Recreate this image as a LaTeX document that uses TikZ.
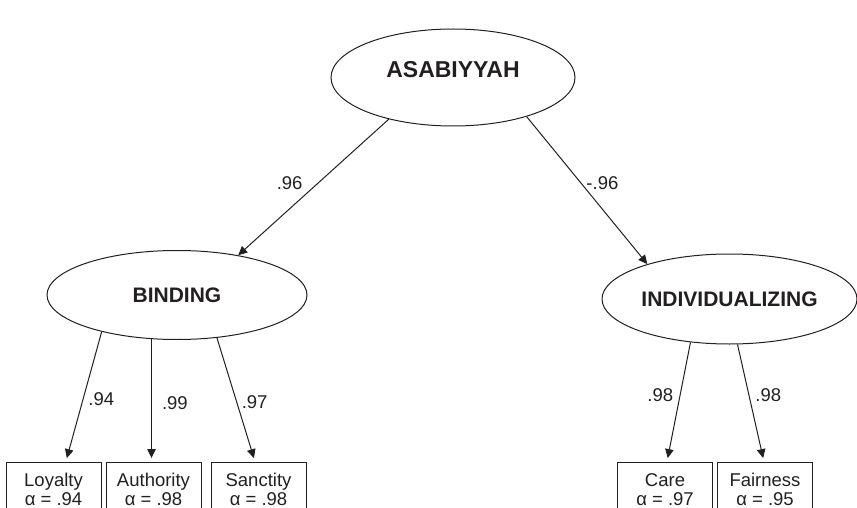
\documentclass[tikz,border=0pt]{standalone}
\usepackage{fontspec}
\setmainfont{Liberation Sans}
\usetikzlibrary{positioning,arrows.meta,shapes.geometric}
\definecolor{InkBlack}{RGB}{35,31,32}
\tikzset{
  loading/.style={-{Triangle[length=9pt,width=8.5pt]},line width=1pt,draw=InkBlack},
  latent/.style={ellipse,draw=InkBlack,line width=1pt,text=InkBlack,
    font=\fontsize{21}{24}\selectfont\bfseries,inner sep=0pt},
  indicator/.style={draw=InkBlack,line width=1pt,text=InkBlack,minimum width=95pt,
    minimum height=54pt,align=center,font=\fontsize{18.5}{19.5}\selectfont,inner sep=2pt},
  coef/.style={font=\fontsize{18.5}{20}\selectfont,text=InkBlack,inner sep=1pt}
}

\begin{document}
\begin{tikzpicture}[x=1pt,y=1pt,node distance=4pt]
  \clip (0,0) rectangle (857,-508);
  % latent factors
  \node[latent,minimum width=244pt,minimum height=97pt,font=\fontsize{23}{24}\selectfont\bfseries,
    text height=16.5pt,text depth=17pt] (asab) at (453,-77.5) {ASABIYYAH};
  \node[latent,minimum width=260pt,minimum height=89pt] (binding) at (177,-295) {BINDING};
  \node[latent,minimum width=255pt,minimum height=90pt] (indiv) at (729.5,-299) {INDIVIDUALIZING};
  % indicators
  \node[indicator,anchor=north] (loyalty) at (53.5,-462) {Loyalty\\α = .94};
  \node[indicator,right=of loyalty] (authority) {Authority\\α = .98};
  \node[indicator,right=9pt of authority] (sanctity) {Sanctity\\α = .98};
  \node[indicator,anchor=north] (care) at (665,-462) {Care\\α = .97};
  \node[indicator,right=of care] (fairness) {Fairness\\α = .95};
  % loadings
  \draw[loading] (asab.213) -- node[coef,pos=0.47,left=14pt] {.96} (binding.33);
  \draw[loading] (asab.332) -- node[coef,pos=0.45,right=4pt] {-.96} (indiv.157);
  \draw[loading,shorten >=4pt] (binding.206) -- node[coef,pos=0.52,right=4pt] {.94} (loyalty.66);
  \draw[loading,shorten >=4pt] (binding.240) -- node[coef,pos=0.52,right=9pt] {.99} (binding.240 |- authority.north);
  \draw[loading,shorten >=4pt] (binding.313) -- node[coef,pos=0.52,right=3.5pt] {.97} (sanctity.97);
  \draw[loading,shorten >=4pt] (indiv.228) -- node[coef,pos=0.44,left=5.5pt] {.98} (care.86);
  \draw[loading,shorten >=4pt] (indiv.280) -- node[coef,pos=0.43,right=5pt] {.98} (fairness.92);
\end{tikzpicture}
\end{document}
